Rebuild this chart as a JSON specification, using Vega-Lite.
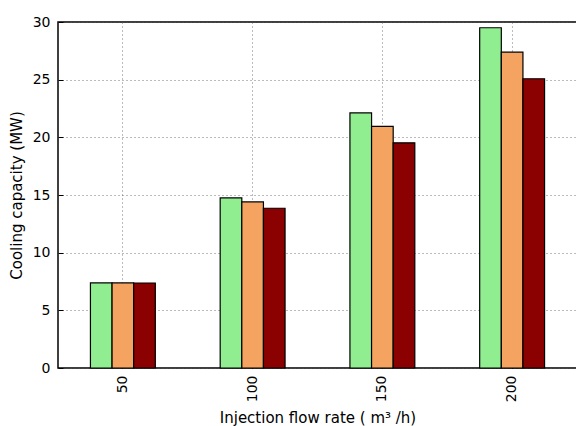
{
  "$schema": "https://vega.github.io/schema/vega-lite/v6.json",
  "autosize": "none",
  "width": 519,
  "height": 346,
  "padding": {"left": 58, "top": 22, "right": 0, "bottom": 58},
  "background": "white",
  "config": {
    "font": "DejaVu Sans",
    "view": {"stroke": "black", "strokeWidth": 1.5},
    "axis": {
      "zindex": 1,
      "domain": false,
      "gridColor": "#555555",
      "gridDash": [1, 3],
      "gridWidth": 1,
      "gridOpacity": 0.8,
      "labelFont": "DejaVu Sans",
      "labelFontSize": 14,
      "labelColor": "black",
      "titleFont": "DejaVu Sans",
      "titleFontSize": 15,
      "titleFontWeight": "normal",
      "titleColor": "black",
      "tickColor": "black",
      "tickSize": -5,
      "tickWidth": 1
    }
  },
  "data": {
    "values": [
      {"flow": "50", "series": "A", "capacity": 7.38},
      {"flow": "50", "series": "B", "capacity": 7.38},
      {"flow": "50", "series": "C", "capacity": 7.37},
      {"flow": "100", "series": "A", "capacity": 14.75},
      {"flow": "100", "series": "B", "capacity": 14.4},
      {"flow": "100", "series": "C", "capacity": 13.85},
      {"flow": "150", "series": "A", "capacity": 22.12},
      {"flow": "150", "series": "B", "capacity": 20.95},
      {"flow": "150", "series": "C", "capacity": 19.52},
      {"flow": "200", "series": "A", "capacity": 29.5},
      {"flow": "200", "series": "B", "capacity": 27.38},
      {"flow": "200", "series": "C", "capacity": 25.08}
    ]
  },
  "mark": {"type": "bar", "stroke": "black", "strokeWidth": 1.2, "opacity": 1},
  "encoding": {
    "x": {
      "field": "flow",
      "type": "nominal",
      "sort": ["50", "100", "150", "200"],
      "scale": {"paddingInner": 0.5, "paddingOuter": 0.25},
      "axis": {
        "title": "Injection flow rate ( m³ /h)",
        "labelAngle": -90,
        "labelPadding": 12,
        "bandPosition": 0.5,
        "grid": true,
        "titlePadding": 9
      }
    },
    "xOffset": {"field": "series", "type": "nominal", "sort": ["A", "B", "C"]},
    "y": {
      "field": "capacity",
      "type": "quantitative",
      "scale": {"domain": [0, 30], "nice": false},
      "axis": {
        "title": "Cooling capacity (MW)",
        "values": [0, 5, 10, 15, 20, 25, 30],
        "labelPadding": 13,
        "titlePadding": 8
      }
    },
    "color": {
      "field": "series",
      "type": "nominal",
      "scale": {"domain": ["A", "B", "C"], "range": ["#90ee90", "#f4a460", "#8b0000"]},
      "legend": null
    }
  }
}
